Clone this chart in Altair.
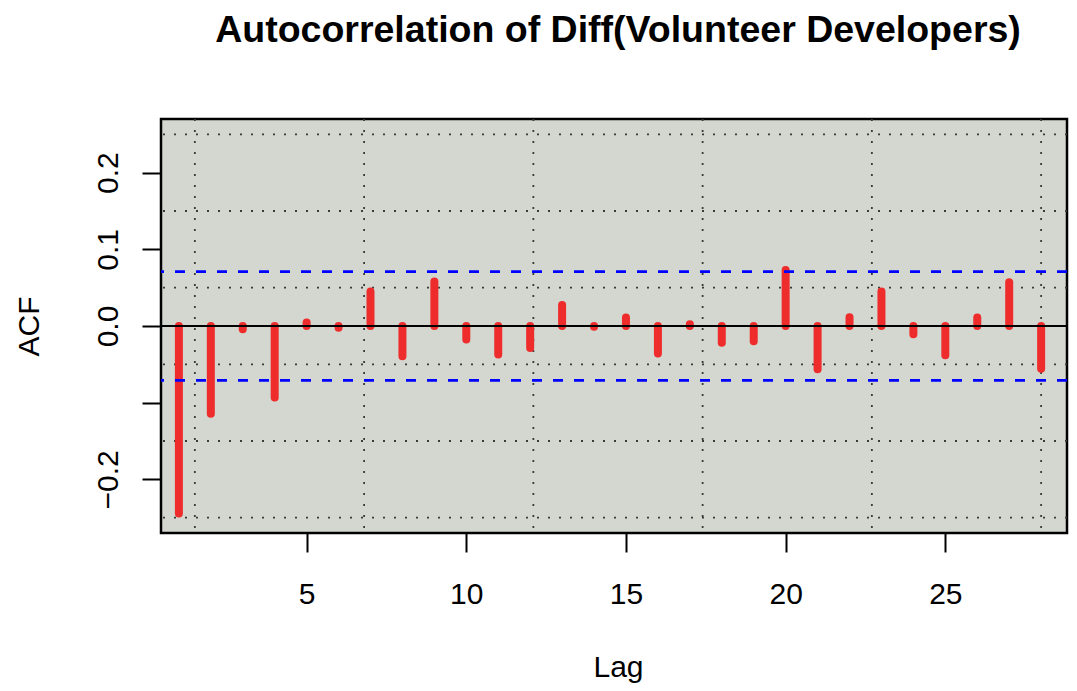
import altair as alt
import pandas as pd

# ---- data ----
lags = list(range(1, 29))
acf_values = [-0.2447, -0.1143, -0.0043, -0.0934, 0.0046, -0.0022, 0.0449, -0.0395,
              0.0579, -0.0177, -0.0373, -0.0287, 0.0274, -0.0010, 0.0110, -0.0360,
              0.0023, -0.0217, -0.0200, 0.0730, -0.0565, 0.0113, 0.0449, -0.0108,
              -0.0382, 0.0110, 0.0570, -0.0556]
ci_bounds = [0.0709, -0.0709]
v_grid = [1.5, 6.8, 12.1, 17.4, 22.7, 28.0]
h_grid = [-0.25, -0.15, -0.05, 0.05, 0.15, 0.25]
x_ticks = [5, 10, 15, 20, 25]
y_ticks = [-0.2, -0.1, 0.0, 0.1, 0.2]
x_domain = [0.44, 28.81]
y_domain = [-0.27, 0.27]

W, H = 906, 414
FONT = "Liberation Sans"

bars_df = pd.DataFrame({"lag": lags, "acf": acf_values})
vg_df = pd.DataFrame({"g": v_grid})
hg_df = pd.DataFrame({"g": h_grid})
ci_df = pd.DataFrame({"c": ci_bounds})
zero_df = pd.DataFrame({"z": [0.0]})

xscale = alt.Scale(domain=x_domain, nice=False, zero=False)
yscale = alt.Scale(domain=y_domain, nice=False, zero=False)

x_axis = alt.Axis(
    values=x_ticks, format="d", title="Lag", grid=False, domain=False,
    tickSize=19, tickWidth=2, tickColor="black",
    labelFont=FONT, labelFontSize=30, labelColor="black",
    labelBaseline="alphabetic", labelPadding=51, labelFlush=False, labelOverlap=False,
    titleFont=FONT, titleFontSize=30, titleFontWeight="normal", titleColor="black",
    titleX=457, titleY=143, titleAlign="center", titleBaseline="alphabetic",
)
y_axis = alt.Axis(
    values=y_ticks, format=".1f", title="ACF", grid=False, domain=False,
    labelExpr="abs(datum.value + 0.1) < 0.001 ? '' : datum.label",
    tickSize=19, tickWidth=2, tickColor="black",
    labelFont=FONT, labelFontSize=30, labelColor="black",
    labelAngle=270, labelAlign="center", labelBaseline="alphabetic",
    labelPadding=25, labelFlush=False, labelOverlap=False,
    titleFont=FONT, titleFontSize=30, titleFontWeight="normal", titleColor="black",
    titleAngle=270, titleX=-123, titleY=H / 2, titleAlign="center",
    titleBaseline="alphabetic",
)

vgrid = alt.Chart(vg_df).mark_rule(
    color="#3a3a3a", strokeWidth=1.8, strokeDash=[2, 9]
).encode(x=alt.X("g:Q", scale=xscale, axis=x_axis))

hgrid = alt.Chart(hg_df).mark_rule(
    color="#3a3a3a", strokeWidth=1.8, strokeDash=[2, 9]
).encode(y=alt.Y("g:Q", scale=yscale, axis=y_axis))

bars = alt.Chart(bars_df).mark_rule(
    color="#EE2C2C", strokeWidth=8, strokeCap="round"
).encode(
    x=alt.X("lag:Q", scale=xscale),
    y=alt.Y("acf:Q", scale=yscale),
    y2=alt.datum(0),
)

zero = alt.Chart(zero_df).mark_rule(color="black", strokeWidth=2.2).encode(
    y=alt.Y("z:Q", scale=yscale)
)

ci = alt.Chart(ci_df).mark_rule(
    color="#0000FF", strokeWidth=2.6, strokeDash=[10, 11]
).encode(y=alt.Y("c:Q", scale=yscale))

chart = alt.layer(vgrid, hgrid, bars, zero, ci).properties(
    width=W,
    height=H,
    background="white",
    title=alt.TitleParams(
        "Autocorrelation of Diff(Volunteer Developers)",
        font=FONT, fontSize=37.5, fontWeight="bold", color="black",
        anchor="middle", baseline="alphabetic", offset=39, dx=4,
    ),
    autosize=alt.AutoSizeParams(type="none"),
    padding={"left": 153, "top": 111, "right": 2, "bottom": 150},
).configure_view(
    fill="#D4D7D0", stroke="black", strokeWidth=2.5
)

chart.save("out.html", embed_options={"renderer": "svg", "actions": False})
